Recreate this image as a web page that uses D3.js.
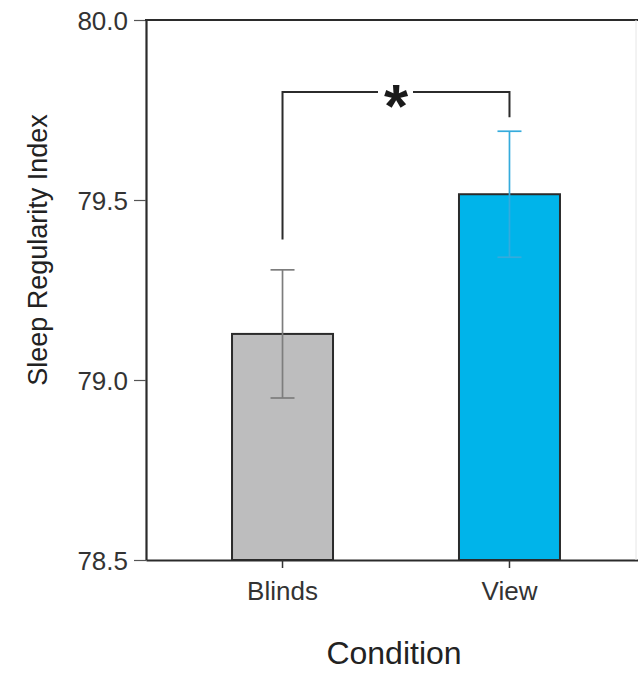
<!DOCTYPE html>
<html><head><meta charset="utf-8">
<script src="https://cdn.jsdelivr.net/npm/d3@7"></script>
<style>body{margin:0;background:#fff}svg{display:block}text{font-family:"Liberation Sans",Arial,sans-serif}</style>
</head><body>
<script>
const categories = ["Blinds", "View"];
const means = [79.128, 79.516];
const errors = [0.178, 0.175];
const yTicks = [78.5, 79.0, 79.5, 80.0];
const fills = ["#bdbdbe", "#00b4ea"];
const errColors = ["#7d7d7d", "#35abdc"];

const W = 638, H = 673;
const svg = d3.select("body").append("svg").attr("width", W).attr("height", H);
const m = {l:146, t:20, b:113};
const y = d3.scaleLinear().domain([78.5, 80.0]).range([H - m.b, m.t]);
const x = d3.scaleBand().domain(categories).range([m.l, 646]).paddingInner(0.555).paddingOuter(0.379);

// bars
svg.selectAll("rect.bar").data(categories).join("rect")
  .attr("x", d => x(d)).attr("width", x.bandwidth())
  .attr("y", (d,i) => y(means[i])).attr("height", (d,i) => y(78.5) - y(means[i]))
  .attr("fill", (d,i) => fills[i]).attr("stroke", "#2b2b2b").attr("stroke-width", 2);

// error bars
const cap = 12;
categories.forEach((c,i) => {
  const cx = x(c) + x.bandwidth()/2;
  const g = svg.append("g").attr("stroke", errColors[i]).attr("stroke-width", 1.7);
  g.append("line").attr("x1", cx).attr("x2", cx).attr("y1", y(means[i]+errors[i])).attr("y2", y(means[i]-errors[i]));
  [1,-1].forEach(s => g.append("line").attr("x1", cx-cap).attr("x2", cx+cap)
    .attr("y1", y(means[i]+s*errors[i])).attr("y2", y(means[i]+s*errors[i])));
});

// axes
const yAxis = svg.append("g").attr("transform", `translate(${m.l},0)`)
  .call(d3.axisLeft(y).tickValues(yTicks).tickFormat(d3.format(".1f")).tickSize(12).tickSizeOuter(0));
yAxis.select(".domain").attr("stroke", "#2b2b2b").attr("stroke-width", 2.2);
yAxis.selectAll(".tick line").attr("stroke", "#555").attr("stroke-width", 1.2);
yAxis.selectAll(".tick text").attr("font-size", 26).attr("fill", "#333").attr("x", -18).attr("dy", "0.36em");

const xAxis = svg.append("g").attr("transform", `translate(0,${H - m.b})`)
  .call(d3.axisBottom(x).tickSize(8).tickSizeOuter(0));
xAxis.select(".domain").attr("stroke", "#2b2b2b").attr("stroke-width", 2.2);
xAxis.selectAll(".tick line").attr("stroke", "#333").attr("stroke-width", 1.5);
xAxis.selectAll(".tick text").attr("font-size", 26).attr("fill", "#333").attr("y", 40).attr("dy", "0");

// top frame line
svg.append("line").attr("x1", m.l - 1).attr("x2", W).attr("y1", y(80.0)).attr("y2", y(80.0))
  .attr("stroke", "#2b2b2b").attr("stroke-width", 2.2);
svg.append("line").attr("x1", W - 2).attr("x2", W - 2).attr("y1", y(80.0)).attr("y2", y(78.5))
  .attr("stroke", "#e6e6e6").attr("stroke-width", 1);

// significance bracket
const bx1 = x("Blinds") + x.bandwidth()/2, bx2 = x("View") + x.bandwidth()/2;
const by = y(79.8), mid = (bx1 + bx2)/2;
const br = svg.append("g").attr("stroke", "#2b2b2b").attr("stroke-width", 2).attr("fill", "none");
br.append("path").attr("d", `M${bx1},${y(79.39)}V${by}H${mid-18}`);
br.append("path").attr("d", `M${mid+17},${by}H${bx2}V${y(79.73)}`);
svg.append("text").attr("x", mid).attr("y", by + 35).attr("text-anchor", "middle")
  .attr("font-size", 62).attr("font-weight", "bold").attr("fill", "#1a1a1a").text("*");

// titles
svg.append("text").attr("transform", `translate(47,250) rotate(-90)`)
  .attr("text-anchor", "middle").attr("font-size", 27).attr("fill", "#222").text("Sleep Regularity Index");
svg.append("text").attr("x", 394).attr("y", 664).attr("text-anchor", "middle")
  .attr("font-size", 32).attr("fill", "#222").text("Condition");
</script>
</body></html>
